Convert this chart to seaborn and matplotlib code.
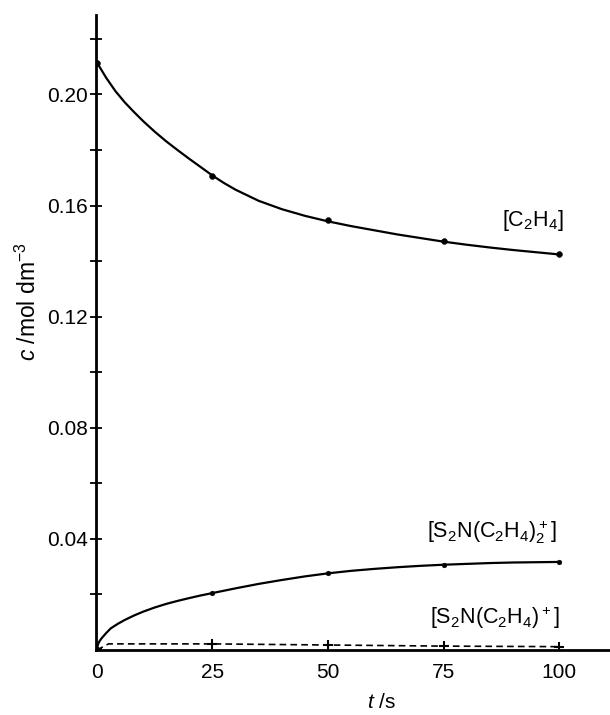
import matplotlib
matplotlib.use("Agg")
import matplotlib.pyplot as plt
import seaborn as sns
import pandas as pd

# measured points
t_obs = [0, 25, 50, 75, 100]
c2h4_obs = [0.2115, 0.1706, 0.1547, 0.1472, 0.1426]
s2n_di_obs = [0.0005, 0.0204, 0.0276, 0.0307, 0.0317]
s2n_mono_obs = [0.0005, 0.0022, 0.0019, 0.0015, 0.0012]

# fitted curves
t_fit_c2h4 = [0, 2, 4, 6, 8, 10, 12.5, 15, 17.5, 20, 22.5, 25, 27.5, 30, 35, 40, 45, 50,
              55, 60, 65, 70, 75, 80, 85, 90, 95, 100]
c2h4_fit = [0.2115, 0.2060, 0.2012, 0.1972, 0.1937, 0.1904, 0.1866, 0.1831, 0.1799,
            0.1768, 0.1738, 0.1708, 0.1681, 0.1657, 0.1617, 0.1587, 0.1563, 0.1543,
            0.1526, 0.1511, 0.1496, 0.1483, 0.1470, 0.1459, 0.1449, 0.1440, 0.1432, 0.1424]
t_fit_di = [0, 0.2, 0.5, 1, 2, 3, 4.5, 6, 8, 10, 12.5, 15, 17.5, 20, 22.5, 25, 30, 35,
            40, 45, 50, 55, 60, 65, 70, 75, 80, 85, 90, 95, 100]
s2n_di_fit = [0, 0.0019, 0.0030, 0.0042, 0.0061, 0.0078, 0.0094, 0.0108, 0.0124, 0.0138,
              0.0153, 0.0166, 0.0177, 0.0187, 0.01965, 0.0205, 0.0222, 0.0238,
              0.0252, 0.0265, 0.0276, 0.0285, 0.0292, 0.0298, 0.0303, 0.0307, 0.0310,
              0.0313, 0.0315, 0.0316, 0.0317]
t_fit_mono = [0, 2.5, 25, 50, 75, 100]
s2n_mono_fit = [0, 0.0022, 0.0022, 0.0018, 0.0014, 0.0012]

y_major = [0.04, 0.08, 0.12, 0.16, 0.20]
y_minor = [0.02, 0.06, 0.10, 0.14, 0.18, 0.22]
x_ticks = [0, 25, 50, 75, 100]

sns.set_style("ticks")
plt.rcParams["font.family"] = ["Liberation Sans", "DejaVu Sans"]
plt.rcParams["mathtext.fontset"] = "custom"
plt.rcParams["mathtext.rm"] = "Liberation Sans"
plt.rcParams["mathtext.it"] = "Liberation Sans:italic"
for key in ["text.color", "axes.labelcolor", "xtick.color", "ytick.color", "axes.edgecolor"]:
    plt.rcParams[key] = "black"

fig = plt.figure(figsize=(6.1, 7.15), dpi=100)
ax = fig.add_axes([96 / 610, 65 / 715, 514 / 610, 635 / 715])

fit = pd.DataFrame({"t": t_fit_c2h4, "c": c2h4_fit})
sns.lineplot(data=fit, x="t", y="c", estimator=None, sort=False, color="black", lw=1.6, ax=ax)
fit = pd.DataFrame({"t": t_fit_di, "c": s2n_di_fit})
sns.lineplot(data=fit, x="t", y="c", estimator=None, sort=False, color="black", lw=1.6, ax=ax)
fit = pd.DataFrame({"t": t_fit_mono, "c": s2n_mono_fit})
sns.lineplot(data=fit, x="t", y="c", estimator=None, sort=False, color="black", lw=1.2, ax=ax)
ax.lines[-1].set_linestyle((0, (4, 2.5)))

obs = pd.DataFrame({"t": t_obs, "c2h4": c2h4_obs, "di": s2n_di_obs, "mono": s2n_mono_obs})
sns.scatterplot(data=obs, x="t", y="c2h4", color="black", s=18, edgecolor="black", ax=ax)
sns.scatterplot(data=obs, x="t", y="di", color="black", s=12, edgecolor="black", ax=ax)
sns.scatterplot(data=obs, x="t", y="mono", color="black", marker="+", s=45, linewidth=1.5, ax=ax)

ax.set_xlim(-0.2, 111)
ax.set_ylim(0, 0.2286)
ax.set_xticks(x_ticks)
ax.set_yticks(y_major)
ax.set_yticks(y_minor, minor=True)
ax.set_yticklabels([f"{v:.2f}" for v in y_major])
ax.tick_params(axis="y", which="both", direction="inout", length=8, width=1.3, pad=2, labelsize=15)
ax.tick_params(axis="x", length=0, pad=9, labelsize=15)

sns.despine(ax=ax)
for side in ["left", "bottom"]:
    ax.spines[side].set_linewidth(2)

ax.set_xlabel(r"$t$ /s", fontsize=15)
ax.xaxis.set_label_coords(0.556, -0.082)
ax.xaxis.label.set_va("center")
ax.set_ylabel(r"$c$ /mol dm$^{-3}$", fontsize=16.5)
ax.yaxis.set_label_coords(-0.132, 0.548)
ax.yaxis.label.set_va("center")

ax.text(94.4, 0.1547, r"[C$_2$H$_4$]", fontsize=15.5, ha="center", va="center")
ax.text(85.5, 0.0423, r"[S$_2$N(C$_2$H$_4$)$_2^+$]", fontsize=15.5, ha="center", va="center")
ax.text(86.1, 0.0117, r"[S$_2$N(C$_2$H$_4$)$^+$]", fontsize=15.5, ha="center", va="center")

fig.savefig("out.png", dpi=100)
